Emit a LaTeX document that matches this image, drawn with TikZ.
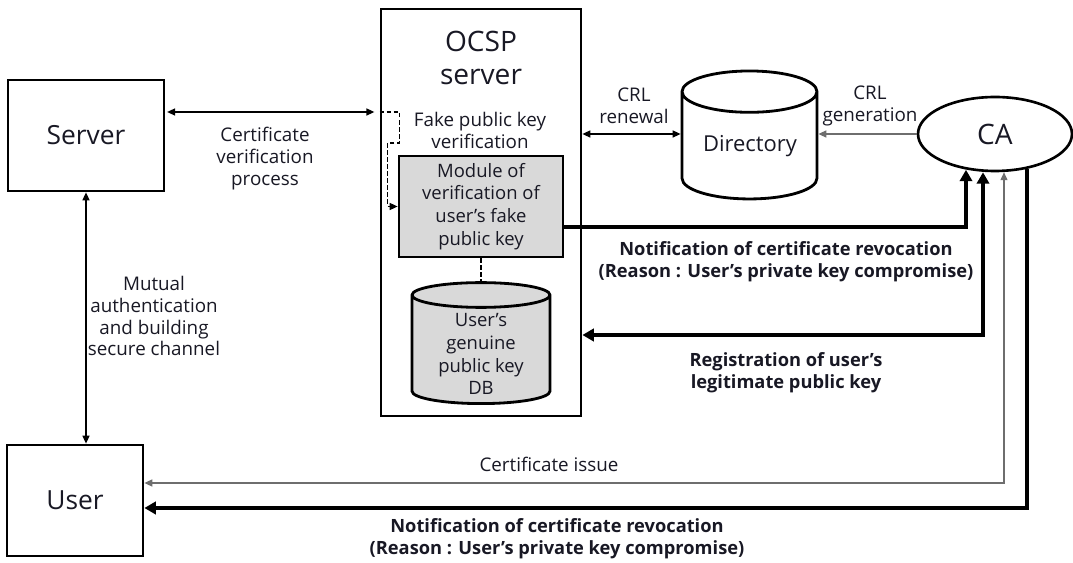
\documentclass[tikz,border=0pt]{standalone}
\usepackage{fontspec}
\setmainfont{Open Sans}
\usetikzlibrary{positioning,arrows.meta,shapes.geometric}
\definecolor{colortext}  {RGB}{24 ,24 ,36 }
\definecolor{colormodule}{RGB}{217,217,217}
\definecolor{colorgrey}  {RGB}{110,110,110}

\begin{document}
\begin{tikzpicture}[
    x=0.02cm, y=-0.02cm,
    >={Triangle[length=4.5pt,width=4pt]},
    base/.style={text=colortext,align=center,inner sep=0pt},
    box/.style={base,rectangle,draw=black,line width=1.6pt},
    store/.style={base,cylinder,shape border rotate=90,draw=black,line width=1.6pt},
    txt/.style={base,font={\fontsize{10.7}{12.5}\selectfont}},
    boldtxt/.style={base,font={\fontsize{10.4}{12.5}\selectfont\bfseries}},
    link/.style={line width=0.7pt,draw=black},
    greylink/.style={link,draw=colorgrey},
    fatlink/.style={line width=2.4pt,draw=black,>={Triangle[length=6.5pt,width=7pt]}},
]
    \useasboundingbox (0,0) rectangle (1073,563);

    % Nodes
    \node[box,minimum width=3.12cm,minimum height=2.22cm,font={\fontsize{15}{17}\selectfont}] (server) at (86,135.5) {Server};
    \node[box,minimum width=2.72cm,minimum height=2.22cm,font={\fontsize{15}{17}\selectfont}] (user) at (75,500.5) {User};
    \node[box,minimum width=4cm,minimum height=8.14cm] (ocsp) at (481,212.5) {};
    \node[base,font={\fontsize{16}{19}\selectfont}] (ocsptitle) at (481,58) {OCSP\\server};
    \node[box,fill=colormodule,minimum width=3.28cm,minimum height=2.02cm,font={\fontsize{10.5}{13}\selectfont}] (module) at (481,206.5) {Module of\\verification of\\user's fake\\public key};

    % Cylinders (labels are set on their own, lower in the body)
    \node[store,fill=colormodule,minimum width=2.76cm,minimum height=2.42cm,aspect=0.29,font={\fontsize{10.5}{13}\selectfont}] (db) at (481,350) {\phantom{public key}};
    \node[store,fill=white,minimum width=2.7cm,minimum height=2.56cm,aspect=0.44,font={\fontsize{12.5}{15}\selectfont}] (dir) at (749.5,146) {\phantom{Directory}};
    \node[base,font={\fontsize{10.5}{13}\selectfont}] (dbtxt) at (481,354) {User's\\genuine\\public key\\DB};
    \node[base,font={\fontsize{12.5}{15}\selectfont}] (dirtxt) at (750,146) {Directory};

    \node[base,ellipse,draw=black,line width=1.5pt,minimum width=3.08cm,minimum height=1.48cm,font={\fontsize{16}{19}\selectfont}] (ca) at (995,134) {CA};

    % Text
    \node[txt] (verlbl)  at (265,159) {Certificate\\verification\\process};
    \node[txt] (mutlbl)  at (154,316) {Mutual\\authentication\\and building\\secure channel};
    \node[txt] (fakelbl) at (480,130) {Fake public key\\verification};
    \node[txt] (renlbl)  at (634,106) {CRL\\renewal};
    \node[txt] (genlbl)  at (870,106) {CRL\\generation};
    \node[txt] (isslbl)  at (549,464) {Certificate issue};
    \node[boldtxt] (revlbl)     at (786,262) {Notification of certificate revocation\\(Reason : User's private key compromise)};
    \node[boldtxt] (reglbl)     at (786,373) {Registration of user's\\legitimate public key};
    \node[boldtxt] (userrevlbl) at (557,539) {Notification of certificate revocation\\(Reason : User's private key compromise)};

    % Ports
    \coordinate (srvport) at ([yshift=0.47cm]server.east);
    \coordinate (regport) at ([yshift=0.30cm]db.east);
    \coordinate (issport) at ([yshift=0.35cm]user.east);
    \coordinate (revport) at ([yshift=-0.15cm]user.east);

    % Arrows
    \draw[link,<->] (server.south) -- (server.south |- user.north);
    \draw[link,<->,shorten <=1pt,shorten >=3pt] (srvport) -- (srvport -| ocsp.west);
    \draw[link,->,dash pattern=on 2.5pt off 1.5pt] (srvport -| ocsp.west) -- ++(20,0) -- ++(0,31) -- ++(-12,0) |- (module.west);
    \draw[link,dash pattern=on 2.5pt off 1.5pt] (module.south) -- (db.top);
    \draw[link,<->] (ca.west -| ocsp.east) -- (ca.west -| dir.west);
    \draw[greylink,->] (ca.west) -- (ca.west -| dir.east);

    % Thick arrows to and from CA
    \draw[fatlink,->]  ([yshift=-0.41cm]module.east) -| ([shift={(-0.58cm,0.05cm)}]ca.south);
    \draw[fatlink,<->] (regport -| ocsp.east) -| ([xshift=-0.24cm]ca.south);
    \draw[greylink,<->] (issport) -| ([xshift=0.18cm]ca.south);
    \draw[fatlink,->]  ([shift={(0.64cm,0.07cm)}]ca.south) |- (revport);

\end{tikzpicture}
\end{document}
